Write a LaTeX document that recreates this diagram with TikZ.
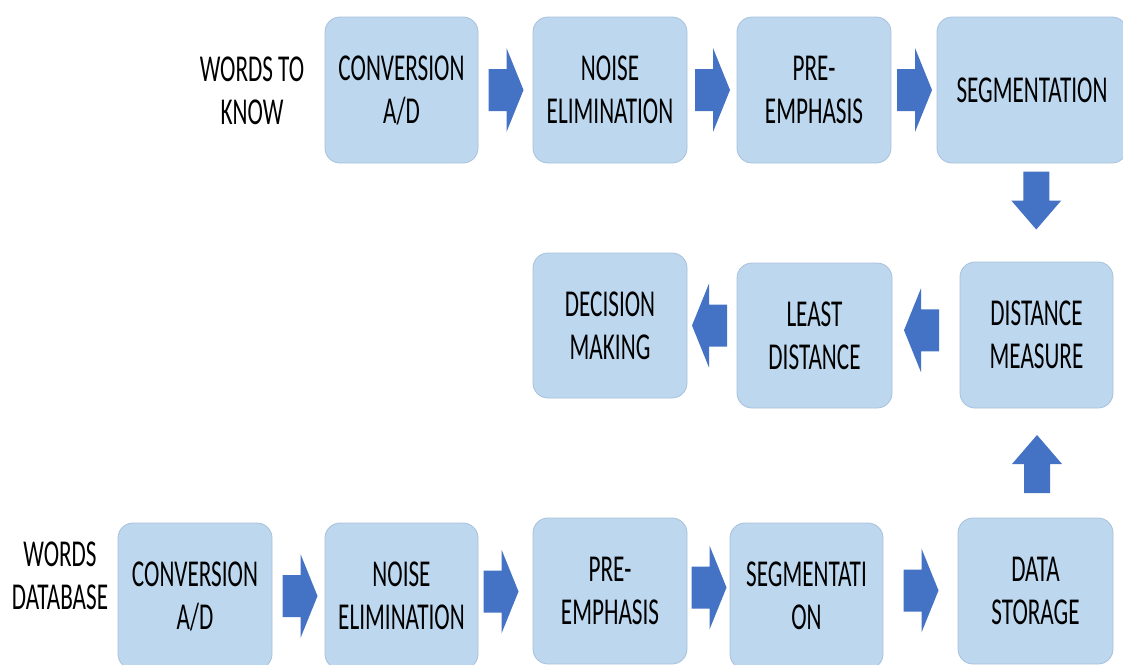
\documentclass[tikz,border=0pt]{standalone}
\usepackage{fontspec}
\setmainfont{Carlito}[FakeStretch=0.61]
\usetikzlibrary{calc}
\definecolor{boxfill}{RGB}{189,215,238}
\definecolor{boxedge}{RGB}{168,193,220}
\definecolor{arrowblue}{RGB}{68,114,196}
\begin{document}
\begin{tikzpicture}[x=1pt,y=-1pt,
  stage/.style={draw=boxedge, line width=0.8pt, fill=boxfill, rounded corners=15pt,
    minimum width=154pt, minimum height=146pt, align=center, inner sep=0pt,
    font=\fontsize{38}{43}\selectfont},
  lbl/.style={align=center, inner sep=0pt, font=\fontsize{38}{43}\selectfont},
  harrow/.pic={\fill[arrowblue] (-17,-21) -- (1,-21) -- (1,-42) -- (18,0) -- (1,42) -- (1,21) -- (-17,21) -- cycle;},
  varrow/.pic={\fill[arrowblue] (-29,-13) -- (0,-13) -- (0,-25) -- (29,0) -- (0,25) -- (0,13) -- (-29,13) -- cycle;}
]
\useasboundingbox (0,0) rectangle (1123,664);
\clip (0,0) rectangle (1123,664);
\fill[white] (0,0) rectangle (1123,664);

% labels
\node[lbl] (lk) at (252,91) {WORDS TO\\KNOW};
\node[lbl] (ld) at (60,576) {WORDS\\DATABASE};

% top row
\node[stage, minimum width=153pt] (t1) at (401.5,90) {CONVERSION\\A/D};
\node[stage] (t2) at (610,90) {NOISE\\ELIMINATION};
\node[stage] (t3) at (814,90) {PRE-\\EMPHASIS};
\node[stage, minimum width=190pt] (t4) at (1032,90) {SEGMENTATION};

% middle row
\node[stage, minimum height=145pt] (m1) at (610,325.5) {DECISION\\MAKING};
\node[stage, minimum width=155pt, minimum height=145pt] (m2) at (814.5,335.5) {LEAST\\DISTANCE};
\node[stage, minimum width=153pt] (m3) at (1036.5,335) {DISTANCE\\MEASURE};

% bottom row
\node[stage] (b1) at (195,596) {CONVERSION\\A/D};
\node[stage, minimum width=153pt] (b2) at (401.5,596) {NOISE\\ELIMINATION};
\node[stage] (b3) at (610,591) {PRE-\\EMPHASIS};
\node[stage, minimum width=153pt] (b4) at (806.5,596) {SEGMENTATI\\ON};
\node[stage, minimum width=155pt] (b5) at (1035.5,591) {DATA\\STORAGE};

% block arrows, top row
\pic at ($(t1.east)!0.5!(t2.west)$) {harrow};
\pic at ($(t2.east)!0.5!(t3.west)$) {harrow};
\pic at ($(t3.east)!0.5!(t4.west)$) {harrow};
% down
\pic[rotate=-90] at ($(t4.south)!0.5!(m3.north)+(2,-12)$) {varrow};
% middle row (leftwards)
\pic[rotate=180] at ($(m2.east)!0.5!(m3.west)+(-4,-5)$) {harrow};
\pic[rotate=180] at ($(m1.east)!0.5!(m2.west)+(-2,-5)$) {harrow};
% up
\pic[rotate=90] at ($(b5.north)!0.5!(m3.south)+(1,1)$) {varrow};
% bottom row
\pic at ($(b1.east)!0.5!(b2.west)+(1,0)$) {harrow};
\pic at ($(b2.east)!0.5!(b3.west)+(-5,-2)$) {harrow};
\pic at ($(b3.east)!0.5!(b4.west)+(0,-6)$) {harrow};
\pic at ($(b4.east)!0.5!(b5.west)+(0,-3)$) {harrow};
\end{tikzpicture}
\end{document}
